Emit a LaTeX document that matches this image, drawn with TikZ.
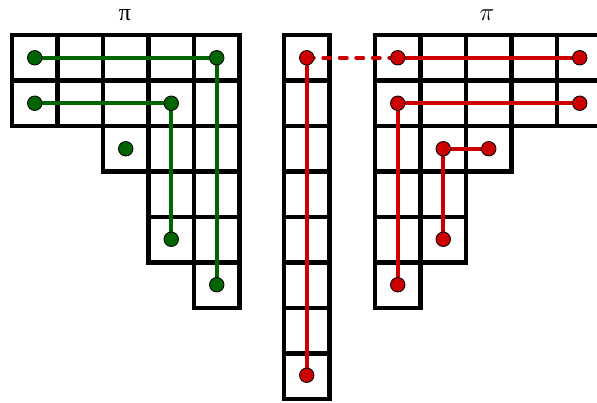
\documentclass[tikz,border=0pt]{standalone}
\usepackage{fontspec}
\newfontfamily\grkfont{Liberation Serif}
\definecolor{dgreen}{RGB}{0,100,0}
\definecolor{dred}{RGB}{204,0,0}
\begin{document}
\begin{tikzpicture}[x=1pt,y=-1pt,
  cellbox/.style={draw=black,line width=4.6pt},
  gdot/.style={circle,fill=dgreen,draw=black,line width=0.8pt,inner sep=0pt,minimum size=14.5pt},
  rdot/.style={circle,fill=dred,draw=black,line width=0.8pt,inner sep=0pt,minimum size=14.5pt},
  gline/.style={draw=dgreen,line width=4pt,line join=round},
  rline/.style={draw=dred,line width=4pt,line join=round},
  lbl/.style={font=\fontsize{24}{24}\selectfont,inner sep=0pt,anchor=base}
]
\useasboundingbox (0,0) rectangle (597,402);
\clip (0,0) rectangle (597,402);
% left grid
\foreach \r/\cols in {0/{0,1,2,3,4},1/{0,1,2,3,4},2/{2,3,4},3/{3,4},4/{3,4},5/{4}}
  \foreach \k in \cols
    \draw[cellbox] ({12+\k*45.5},{35+\r*45.5}) rectangle ++(45.5,45.5);
% middle column
\foreach \r in {0,...,7}
  \draw[cellbox] (284,{35+\r*45.5}) rectangle ++(45.5,45.5);
% right grid
\foreach \r/\cols in {0/{0,1,2,3,4},1/{0,1,2,3,4},2/{0,1,2},3/{0,1},4/{0,1},5/{0}}
  \foreach \k in \cols
    \draw[cellbox] ({375+\k*45.5},{35+\r*45.5}) rectangle ++(45.5,45.5);
% labels
\node[lbl,font=\fontsize{24}{24}\selectfont\grkfont] (lp) at (125,20.5) {π};
\node[lbl] (rp) at (487,20.5) {$\pi$};
% dots (left)
\coordinate (a0) at (34.75,57.75);
\coordinate (a1) at (216.75,57.75);
\coordinate (a2) at (216.75,284.75);
\coordinate (b0) at (34.75,103.25);
\coordinate (b1) at (171.25,103.25);
\coordinate (b2) at (171.25,239.25);
\coordinate (s0) at (125.75,148.75);
% middle
\coordinate (m0) at (306.75,57.75);
\coordinate (m1) at (306.75,375.25);
% right
\coordinate (r0) at (397.75,57.75);
\coordinate (r1) at (579.75,57.75);
\coordinate (q0) at (579.75,103.25);
\coordinate (q1) at (397.75,103.25);
\coordinate (q2) at (397.75,284.75);
\coordinate (p0) at (488.75,148.75);
\coordinate (p1) at (443.25,148.75);
\coordinate (p2) at (443.25,239.25);
% lines
\draw[gline] (a0) -- (a1) -- (a2);
\draw[gline] (b0) -- (b1) -- (b2);
\draw[rline] (m0) -- (m1);
\draw[rline,line cap=round,dash pattern=on 7pt off 9.5pt] (m0) -- (r0);
\draw[rline] (r0) -- (r1);
\draw[rline] (q0) -- (q1) -- (q2);
\draw[rline] (p0) -- (p1) -- (p2);
% dot nodes
\foreach \n in {a0,a1,a2,b0,b1,b2,s0}
  \node[gdot] (d\n) at (\n) {};
\foreach \n in {m0,m1,r0,r1,q0,q1,q2,p0,p1,p2}
  \node[rdot] (d\n) at (\n) {};
\end{tikzpicture}
\end{document}
